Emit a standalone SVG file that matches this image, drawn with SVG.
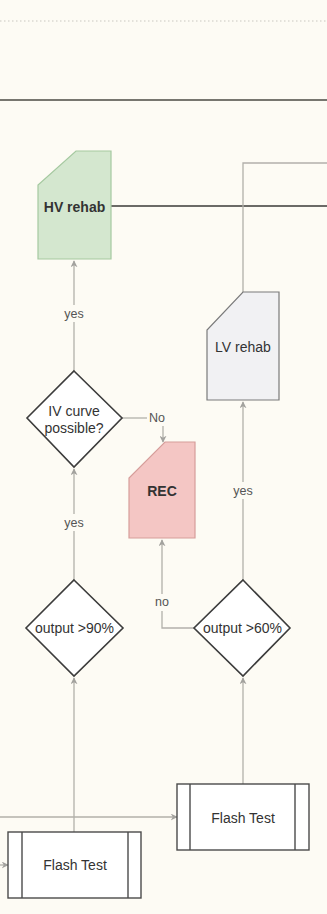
<svg xmlns="http://www.w3.org/2000/svg" width="327" height="914" viewBox="0 0 327 914">
<defs>
<marker id="arr" viewBox="0 0 10 10" refX="9" refY="5" markerWidth="7" markerHeight="7" markerUnits="userSpaceOnUse" orient="auto">
<path d="M0,0 L10,5 L0,10 L3,5 Z" fill="#a3a29e"/>
</marker>
<style>
.bg{fill:#fdfbf4}
.conn{fill:none;stroke:#b2b0aa;stroke-width:1.3}
.thick{fill:none;stroke:#6b6a66;stroke-width:2}
.dia{fill:#ffffff;stroke:#3c3c3c;stroke-width:1.6}
.box{fill:#ffffff;stroke:#4a4a4a;stroke-width:1.4}
.t{font-family:"Liberation Sans",Arial,sans-serif;font-size:14px;fill:#333;text-anchor:middle;dominant-baseline:central}
.lbl{font-family:"Liberation Sans",Arial,sans-serif;font-size:12.5px;fill:#555;text-anchor:middle;dominant-baseline:central}
.b{font-weight:bold}
</style>
</defs>
<rect class="bg" x="0" y="0" width="327" height="914"/>
<line x1="0" y1="21" x2="327" y2="21" stroke="#c9c7c0" stroke-width="1" stroke-dasharray="1.5,2.5"/>
<line x1="0" y1="100" x2="327" y2="100" stroke="#77766f" stroke-width="2"/>

<g id="connectors">
<path class="thick" d="M111,206 H327"/>
<path class="conn" d="M327,163 H243 V292"/>
<path class="conn" d="M74,371 V261" marker-end="url(#arr)"/>
<path class="conn" d="M74,580 V469" marker-end="url(#arr)"/>
<path class="conn" d="M74,832 V678" marker-end="url(#arr)"/>
<path class="conn" d="M243,580 V402" marker-end="url(#arr)"/>
<path class="conn" d="M243,784 V678" marker-end="url(#arr)"/>
<path class="conn" d="M122,418 H147"/>
<path class="conn" d="M163,426 V442" marker-end="url(#arr)"/>
<path class="conn" d="M194,628 H162 V540" marker-end="url(#arr)"/>
<path class="conn" d="M0,817 H177" marker-end="url(#arr)"/>
<path class="conn" d="M0,865 H8" marker-end="url(#arr)"/>
<rect x="62" y="305" width="24" height="17" class="bg"/>
<text class="lbl" x="74" y="314">yes</text>
<rect x="62" y="514" width="24" height="17" class="bg"/>
<text class="lbl" x="74" y="523">yes</text>
<rect x="231" y="482" width="24" height="17" class="bg"/>
<text class="lbl" x="243" y="491">yes</text>
<rect x="153" y="594" width="18" height="17" class="bg"/>
<text class="lbl" x="162" y="602">no</text>
<text class="lbl" x="157" y="418">No</text>
</g>

<g id="hv-rehab">
<path d="M76,151 H111 V259 H38 V185 Z" fill="#d4e7cf" stroke="#a5c9a0" stroke-width="1.2"/>
<text class="t b" x="74.5" y="207" fill="#3a4a3a">HV rehab</text>
</g>

<g id="lv-rehab">
<path d="M243,292 H279 V400 H207 V330 Z" fill="#f1f1f3" stroke="#7a7a7a" stroke-width="1.2"/>
<text class="t" x="243" y="347" fill="#555">LV rehab</text>
</g>

<g id="rec">
<path d="M165,442 H195 V538 H129 V478 Z" fill="#f4c6c4" stroke="#d69d9a" stroke-width="1.2"/>
<text class="t b" x="162" y="491" fill="#5a3d3d">REC</text>
</g>

<g id="iv-curve">
<path class="dia" d="M74,371 L122,418 L74,467 L27,418 Z"/>
<text class="t" x="74" y="411">IV curve</text>
<text class="t" x="74" y="428">possible?</text>
</g>

<g id="output-90">
<path class="dia" d="M74,580 L123,628 L74,676 L26,628 Z"/>
<text class="t" x="74.5" y="628">output &gt;90%</text>
</g>

<g id="output-60">
<path class="dia" d="M243,580 L290,628 L243,676 L194,628 Z"/>
<text class="t" x="242.5" y="628">output &gt;60%</text>
</g>

<g id="flash-test-1">
<rect class="box" x="8" y="832" width="133" height="66"/>
<line class="box" x1="22" y1="832" x2="22" y2="898"/>
<line class="box" x1="128" y1="832" x2="128" y2="898"/>
<text class="t" x="75" y="865">Flash Test</text>
</g>

<g id="flash-test-2">
<rect class="box" x="177" y="784" width="132" height="66"/>
<line class="box" x1="190" y1="784" x2="190" y2="850"/>
<line class="box" x1="295" y1="784" x2="295" y2="850"/>
<text class="t" x="243" y="818">Flash Test</text>
</g>
</svg>
